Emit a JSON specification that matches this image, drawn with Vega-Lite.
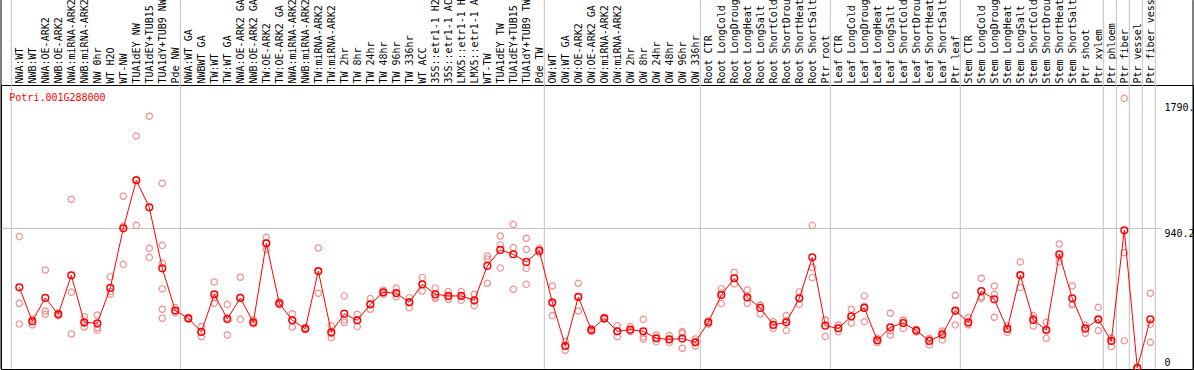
{
"$schema":"https://vega.github.io/schema/vega-lite/v6.json",
"width":1192,"height":284,
"autosize":{"type":"none"},
"padding":{"left":1,"top":85,"right":1,"bottom":1},
"background":"white",
"config":{"view":{"stroke":"black","strokeWidth":1},"axis":{"labelFont":"DejaVu Sans Mono","labelFontSize":10,"labelColor":"black","grid":false,"ticks":false,"domain":false,"labelOverlap":false}},
"datasets":{
"means":[
{"n":1,"sample":"NWA:WT","mean":543},{"n":2,"sample":"NWB:WT","mean":314},{"n":3,"sample":"NWA:OE-ARK2","mean":471},{"n":4,"sample":"NWB:OE-ARK2","mean":361},{"n":5,"sample":"NWA:miRNA-ARK2","mean":624},{"n":6,"sample":"NWB:miRNA-ARK2","mean":307},{"n":7,"sample":"NW 0hr","mean":300},{"n":8,"sample":"WT H2O","mean":539},{"n":9,"sample":"WT-NW","mean":941},{"n":10,"sample":"TUA1dEY NW","mean":1265},
{"n":11,"sample":"TUA1dEY+TUB15 NW","mean":1083},{"n":12,"sample":"TUA1dY+TUB9 NW","mean":671},{"n":13,"sample":"Pde NW","mean":386},{"n":14,"sample":"NWA:WT GA","mean":334},{"n":15,"sample":"NWBWT GA","mean":242},{"n":16,"sample":"TW:WT","mean":496},{"n":17,"sample":"TW:WT GA","mean":329},{"n":18,"sample":"NWA:OE-ARK2 GA","mean":471},{"n":19,"sample":"NWB:OE-ARK2 GA","mean":307},{"n":20,"sample":"TW:OE-ARK2","mean":840},
{"n":21,"sample":"TW:OE-ARK2 GA","mean":435},{"n":22,"sample":"NWA:miRNA-ARK2","mean":320},{"n":23,"sample":"NWB:miRNA-ARK2","mean":264},{"n":24,"sample":"TW:miRNA-ARK2","mean":653},{"n":25,"sample":"TW:miRNA-ARK2","mean":239},{"n":26,"sample":"TW 2hr","mean":365},{"n":27,"sample":"TW 8hr","mean":320},{"n":28,"sample":"TW 24hr","mean":428},{"n":29,"sample":"TW 48hr","mean":509},{"n":30,"sample":"TW 96hr","mean":504},
{"n":31,"sample":"TW 336hr","mean":442},{"n":32,"sample":"WT ACC","mean":563},{"n":33,"sample":"35S::etr1-1 H2O","mean":496},{"n":34,"sample":"35S::etr1-1 ACC","mean":485},{"n":35,"sample":"LMX5::etr1-1 H2O","mean":485},{"n":36,"sample":"LMX5::etr1-1 ACC","mean":455},{"n":37,"sample":"WT-TW","mean":687},{"n":38,"sample":"TUA1dEY TW","mean":795},{"n":39,"sample":"TUA1dEY+TUB15 TW","mean":766},{"n":40,"sample":"TUA1dY+TUB9 TW","mean":714},
{"n":41,"sample":"Pde TW","mean":790},{"n":42,"sample":"OW:WT","mean":442},{"n":43,"sample":"OW:WT GA","mean":147},{"n":44,"sample":"OW:OE-ARK2","mean":478},{"n":45,"sample":"OW:OE-ARK2 GA","mean":255},{"n":46,"sample":"OW:miRNA-ARK2","mean":334},{"n":47,"sample":"OW:miRNA-ARK2","mean":246},{"n":48,"sample":"OW 2hr","mean":257},{"n":49,"sample":"OW 8hr","mean":246},{"n":50,"sample":"OW 24hr","mean":199},
{"n":51,"sample":"OW 48hr","mean":192},{"n":52,"sample":"OW 96hr","mean":197},{"n":53,"sample":"OW 336hr","mean":172},{"n":54,"sample":"Root CTR","mean":307},{"n":55,"sample":"Root LongCold","mean":491},{"n":56,"sample":"Root LongDrought","mean":604},{"n":57,"sample":"Root LongHeat","mean":476},{"n":58,"sample":"Root LongSalt","mean":404},{"n":59,"sample":"Root ShortCold","mean":289},{"n":60,"sample":"Root ShortDrought","mean":307},
{"n":61,"sample":"Root ShortHeat","mean":469},{"n":62,"sample":"Root ShortSalt","mean":745},{"n":63,"sample":"Ptr root","mean":284},{"n":64,"sample":"Leaf CTR","mean":266},{"n":65,"sample":"Leaf LongCold","mean":347},{"n":66,"sample":"Leaf LongDrought","mean":404},{"n":67,"sample":"Leaf LongHeat","mean":185},{"n":68,"sample":"Leaf LongSalt","mean":273},{"n":69,"sample":"Leaf ShortCold","mean":302},{"n":70,"sample":"Leaf ShortDrought","mean":251},
{"n":71,"sample":"Leaf ShortHeat","mean":181},{"n":72,"sample":"Leaf ShortSalt","mean":224},{"n":73,"sample":"Ptr leaf","mean":386},{"n":74,"sample":"Stem CTR","mean":307},{"n":75,"sample":"Stem LongCold","mean":518},{"n":76,"sample":"Stem LongDrought","mean":462},{"n":77,"sample":"Stem LongHeat","mean":262},{"n":78,"sample":"Stem LongSalt","mean":626},{"n":79,"sample":"Stem ShortCold","mean":323},{"n":80,"sample":"Stem ShortDrought","mean":255},
{"n":81,"sample":"Stem ShortHeat","mean":766},{"n":82,"sample":"Stem ShortSalt","mean":469},{"n":83,"sample":"Ptr shoot","mean":264},{"n":84,"sample":"Ptr xylem","mean":327},{"n":85,"sample":"Ptr phloem","mean":181},{"n":86,"sample":"Ptr fiber","mean":928},{"n":87,"sample":"Ptr vessel","mean":0},{"n":88,"sample":"Ptr fiber vessel","mean":327}
],
"reps":[
{"n":1,"v":885},{"n":1,"v":435},{"n":1,"v":296},
{"n":2,"v":327},{"n":2,"v":311},{"n":2,"v":289},
{"n":3,"v":660},{"n":3,"v":383},{"n":3,"v":361},
{"n":4,"v":370},{"n":4,"v":360},{"n":4,"v":352},
{"n":5,"v":1137},{"n":5,"v":509},{"n":5,"v":228},
{"n":6,"v":345},{"n":6,"v":300},{"n":6,"v":275},
{"n":7,"v":356},{"n":7,"v":271},{"n":7,"v":255},
{"n":8,"v":613},{"n":8,"v":514},{"n":8,"v":496},
{"n":9,"v":1157},{"n":9,"v":955},{"n":9,"v":698},
{"n":10,"v":1564},{"n":10,"v":1270},{"n":10,"v":961},
{"n":11,"v":1697},{"n":11,"v":806},{"n":11,"v":745},
{"n":12,"v":1245},{"n":12,"v":826},{"n":12,"v":705},{"n":12,"v":532},{"n":12,"v":395},{"n":12,"v":334},
{"n":13,"v":406},{"n":13,"v":386},{"n":13,"v":370},
{"n":14,"v":341},{"n":14,"v":334},{"n":14,"v":327},
{"n":15,"v":278},{"n":15,"v":242},{"n":15,"v":210},
{"n":16,"v":579},{"n":16,"v":475},{"n":16,"v":435},
{"n":17,"v":428},{"n":17,"v":338},{"n":17,"v":221},
{"n":18,"v":611},{"n":18,"v":475},{"n":18,"v":327},
{"n":19,"v":323},{"n":19,"v":302},{"n":19,"v":296},
{"n":20,"v":880},{"n":20,"v":840},{"n":20,"v":799},
{"n":21,"v":446},{"n":21,"v":435},{"n":21,"v":424},
{"n":22,"v":365},{"n":22,"v":320},{"n":22,"v":275},
{"n":23,"v":271},{"n":23,"v":264},{"n":23,"v":258},
{"n":24,"v":808},{"n":24,"v":650},{"n":24,"v":503},
{"n":25,"v":284},{"n":25,"v":230},{"n":25,"v":203},
{"n":26,"v":485},{"n":26,"v":323},{"n":26,"v":305},
{"n":27,"v":361},{"n":27,"v":320},{"n":27,"v":278},
{"n":28,"v":467},{"n":28,"v":425},{"n":28,"v":395},
{"n":29,"v":525},{"n":29,"v":509},{"n":29,"v":496},
{"n":30,"v":536},{"n":30,"v":500},{"n":30,"v":478},
{"n":31,"v":473},{"n":31,"v":445},{"n":31,"v":406},
{"n":32,"v":608},{"n":32,"v":563},{"n":32,"v":518},
{"n":33,"v":539},{"n":33,"v":480},{"n":33,"v":469},
{"n":34,"v":514},{"n":34,"v":480},{"n":34,"v":462},
{"n":35,"v":514},{"n":35,"v":486},{"n":35,"v":455},
{"n":36,"v":496},{"n":36,"v":450},{"n":36,"v":419},
{"n":37,"v":754},{"n":37,"v":734},{"n":37,"v":570},
{"n":38,"v":889},{"n":38,"v":829},{"n":38,"v":674},
{"n":39,"v":968},{"n":39,"v":811},{"n":39,"v":530},
{"n":40,"v":874},{"n":40,"v":799},{"n":40,"v":671},{"n":40,"v":563},
{"n":41,"v":806},{"n":41,"v":790},{"n":41,"v":775},
{"n":42,"v":552},{"n":42,"v":432},{"n":42,"v":352},
{"n":43,"v":177},{"n":43,"v":147},{"n":43,"v":118},
{"n":44,"v":570},{"n":44,"v":480},{"n":44,"v":383},
{"n":45,"v":265},{"n":45,"v":255},{"n":45,"v":245},
{"n":46,"v":341},{"n":46,"v":334},{"n":46,"v":327},
{"n":47,"v":284},{"n":47,"v":246},{"n":47,"v":210},
{"n":48,"v":278},{"n":48,"v":250},{"n":48,"v":244},
{"n":49,"v":327},{"n":49,"v":210},{"n":49,"v":194},
{"n":50,"v":221},{"n":50,"v":199},{"n":50,"v":176},
{"n":51,"v":217},{"n":51,"v":190},{"n":51,"v":170},
{"n":52,"v":244},{"n":52,"v":233},{"n":52,"v":132},
{"n":53,"v":194},{"n":53,"v":175},{"n":53,"v":147},
{"n":54,"v":316},{"n":54,"v":307},{"n":54,"v":293},
{"n":55,"v":534},{"n":55,"v":505},{"n":55,"v":433},
{"n":56,"v":644},{"n":56,"v":604},{"n":56,"v":566},
{"n":57,"v":525},{"n":57,"v":470},{"n":57,"v":435},
{"n":58,"v":424},{"n":58,"v":420},{"n":58,"v":363},
{"n":59,"v":311},{"n":59,"v":289},{"n":59,"v":266},
{"n":60,"v":352},{"n":60,"v":318},{"n":60,"v":251},
{"n":61,"v":512},{"n":61,"v":469},{"n":61,"v":428},
{"n":62,"v":961},{"n":62,"v":676},{"n":62,"v":608},
{"n":63,"v":323},{"n":63,"v":318},{"n":63,"v":212},
{"n":64,"v":289},{"n":64,"v":266},{"n":64,"v":244},
{"n":65,"v":395},{"n":65,"v":345},{"n":65,"v":302},
{"n":66,"v":485},{"n":66,"v":415},{"n":66,"v":311},
{"n":67,"v":199},{"n":67,"v":185},{"n":67,"v":170},
{"n":68,"v":368},{"n":68,"v":248},{"n":68,"v":221},
{"n":69,"v":323},{"n":69,"v":318},{"n":69,"v":266},
{"n":70,"v":260},{"n":70,"v":251},{"n":70,"v":242},
{"n":71,"v":199},{"n":71,"v":190},{"n":71,"v":154},
{"n":72,"v":248},{"n":72,"v":236},{"n":72,"v":188},
{"n":73,"v":489},{"n":73,"v":380},{"n":73,"v":289},
{"n":74,"v":338},{"n":74,"v":295},{"n":74,"v":289},
{"n":75,"v":604},{"n":75,"v":480},{"n":75,"v":469},
{"n":76,"v":552},{"n":76,"v":496},{"n":76,"v":341},
{"n":77,"v":284},{"n":77,"v":262},{"n":77,"v":239},
{"n":78,"v":714},{"n":78,"v":622},{"n":78,"v":541},
{"n":79,"v":352},{"n":79,"v":335},{"n":79,"v":282},
{"n":80,"v":307},{"n":80,"v":260},{"n":80,"v":199},
{"n":81,"v":835},{"n":81,"v":748},{"n":81,"v":716},
{"n":82,"v":552},{"n":82,"v":430},{"n":82,"v":424},
{"n":83,"v":289},{"n":83,"v":270},{"n":83,"v":233},
{"n":84,"v":408},{"n":84,"v":322},{"n":84,"v":251},
{"n":85,"v":199},{"n":85,"v":200},{"n":85,"v":143},
{"n":86,"v":1818},{"n":86,"v":777},{"n":86,"v":183},
{"n":87,"v":0},{"n":87,"v":0},{"n":87,"v":0},
{"n":88,"v":503},{"n":88,"v":293},{"n":88,"v":172}
],
"bounds":[{"after":0},{"after":13},{"after":41},{"after":53},{"after":63},{"after":73},{"after":84},{"after":85},{"after":86},{"after":87},{"after":88}]
},
"layer":[
{"data":{"name":"bounds"},
 "mark":{"type":"rule","color":"#c0c0c0","strokeWidth":1,"xOffset":5},
 "encoding":{
  "x":{"field":"after","type":"quantitative","scale":{"type":"linear","domain":[-0.408,91.285],"nice":false,"zero":false}},
  "y":{"datum":-8.2,"type":"quantitative","scale":{"domain":[-8.2,1908],"nice":false,"zero":false}},
  "y2":{"datum":2481}
 }},
{"data":{"values":[{}]},
 "mark":{"type":"rule","color":"#c0c0c0","strokeWidth":1},
 "encoding":{
  "x":{"datum":-0.408,"type":"quantitative","scale":{"type":"linear","domain":[-0.408,91.285],"nice":false,"zero":false}},
  "x2":{"datum":88.82},
  "y":{"datum":940.2,"type":"quantitative","scale":{"domain":[-8.2,1908],"nice":false,"zero":false}}
 }},
{"data":{"values":[{}]},
 "mark":{"type":"rule","color":"black","strokeWidth":1},
 "encoding":{
  "x":{"datum":-0.408,"type":"quantitative","scale":{"type":"linear","domain":[-0.408,91.285],"nice":false,"zero":false}},
  "y":{"datum":-8.2,"type":"quantitative","scale":{"domain":[-8.2,1908],"nice":false,"zero":false}},
  "y2":{"datum":2481}
 }},
{"data":{"values":[{}]},
 "mark":{"type":"rule","color":"black","strokeWidth":1},
 "encoding":{
  "x":{"datum":91.285,"type":"quantitative","scale":{"type":"linear","domain":[-0.408,91.285],"nice":false,"zero":false}},
  "y":{"datum":-8.2,"type":"quantitative","scale":{"domain":[-8.2,1908],"nice":false,"zero":false}},
  "y2":{"datum":2481}
 }},
{"data":{"name":"reps"},
 "mark":{"type":"point","shape":"circle","filled":false,"color":"#f09090","size":40,"strokeWidth":1.2,"opacity":1},
 "encoding":{
  "x":{"field":"n","type":"quantitative","scale":{"type":"linear","domain":[-0.408,91.285],"nice":false,"zero":false}},
  "y":{"field":"v","type":"quantitative","scale":{"domain":[-8.2,1908],"nice":false,"zero":false}}
 }},
{"data":{"name":"means"},
 "mark":{"type":"line","color":"#ff0000","strokeWidth":1},
 "encoding":{
  "x":{"field":"n","type":"quantitative","scale":{"type":"linear","domain":[-0.408,91.285],"nice":false,"zero":false},
   "axis":{"orient":"top","title":null,"tickCount":200,"values":[1,2,3,4,5,6,7,8,9,10,11,12,13,14,15,16,17,18,19,20,21,22,23,24,25,26,27,28,29,30,31,32,33,34,35,36,37,38,39,40,41,42,43,44,45,46,47,48,49,50,51,52,53,54,55,56,57,58,59,60,61,62,63,64,65,66,67,68,69,70,71,72,73,74,75,76,77,78,79,80,81,82,83,84,85,86,87,88],
    "labelExpr":"['NWA:WT','NWB:WT','NWA:OE-ARK2','NWB:OE-ARK2','NWA:miRNA-ARK2','NWB:miRNA-ARK2','NW 0hr','WT H2O','WT-NW','TUA1dEY NW','TUA1dEY+TUB15 NW','TUA1dY+TUB9 NW','Pde NW','NWA:WT GA','NWBWT GA','TW:WT','TW:WT GA','NWA:OE-ARK2 GA','NWB:OE-ARK2 GA','TW:OE-ARK2','TW:OE-ARK2 GA','NWA:miRNA-ARK2','NWB:miRNA-ARK2','TW:miRNA-ARK2','TW:miRNA-ARK2','TW 2hr','TW 8hr','TW 24hr','TW 48hr','TW 96hr','TW 336hr','WT ACC','35S::etr1-1 H2O','35S::etr1-1 ACC','LMX5::etr1-1 H2O','LMX5::etr1-1 ACC','WT-TW','TUA1dEY TW','TUA1dEY+TUB15 TW','TUA1dY+TUB9 TW','Pde TW','OW:WT','OW:WT GA','OW:OE-ARK2','OW:OE-ARK2 GA','OW:miRNA-ARK2','OW:miRNA-ARK2','OW 2hr','OW 8hr','OW 24hr','OW 48hr','OW 96hr','OW 336hr','Root CTR','Root LongCold','Root LongDrought','Root LongHeat','Root LongSalt','Root ShortCold','Root ShortDrought','Root ShortHeat','Root ShortSalt','Ptr root','Leaf CTR','Leaf LongCold','Leaf LongDrought','Leaf LongHeat','Leaf LongSalt','Leaf ShortCold','Leaf ShortDrought','Leaf ShortHeat','Leaf ShortSalt','Ptr leaf','Stem CTR','Stem LongCold','Stem LongDrought','Stem LongHeat','Stem LongSalt','Stem ShortCold','Stem ShortDrought','Stem ShortHeat','Stem ShortSalt','Ptr shoot','Ptr xylem','Ptr phloem','Ptr fiber','Ptr vessel','Ptr fiber vessel'][datum.value-1]",
    "labelAngle":-90,"labelAlign":"left","labelBaseline":"middle","labelPadding":2,"labelFlush":false,"labelBound":false,"labelOverlap":false,"labelLimit":0,"ticks":false,"tickSize":0,"domain":false,"grid":false}},
  "y":{"field":"mean","type":"quantitative","scale":{"domain":[-8.2,1908],"nice":false,"zero":false},
   "axis":{"orient":"right","title":null,"values":[0,940.2,1790],
    "labelExpr":"datum.value == 1790 ? '1790.' : (datum.value == 0 ? '0' : '940.2')",
    "offset":-29,"labelPadding":0,"ticks":false,"tickSize":0,"domain":false,"grid":false,"labelAlign":"left",
    "labelBaseline":{"condition":{"test":"datum.value === 0","value":"bottom"},"value":"top"},
    "labelFlush":false,"labelBound":false,"labelOverlap":false}}
 }},
{"data":{"name":"means"},
 "mark":{"type":"point","shape":"circle","filled":false,"color":"#ff0000","size":45,"strokeWidth":1.5,"opacity":1},
 "encoding":{
  "x":{"field":"n","type":"quantitative","scale":{"type":"linear","domain":[-0.408,91.285],"nice":false,"zero":false}},
  "y":{"field":"mean","type":"quantitative","scale":{"domain":[-8.2,1908],"nice":false,"zero":false}}
 }},
{"data":{"values":[{}]},
 "mark":{"type":"text","text":"Potri.001G288000","color":"#ff0000","font":"DejaVu Sans Mono","fontSize":10,"align":"left","baseline":"alphabetic","dx":-10},
 "encoding":{
  "x":{"datum":1,"type":"quantitative","scale":{"type":"linear","domain":[-0.408,91.285],"nice":false,"zero":false}},
  "y":{"datum":1800,"type":"quantitative","scale":{"domain":[-8.2,1908],"nice":false,"zero":false}}
 }}
]
}
